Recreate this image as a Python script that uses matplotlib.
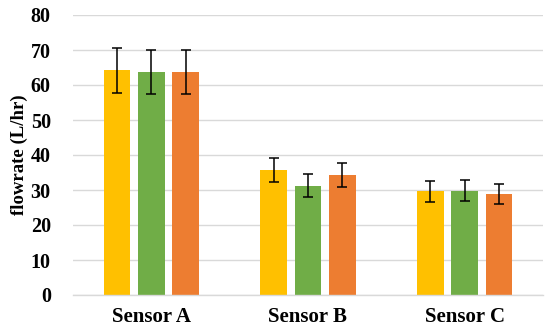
import matplotlib
matplotlib.use("Agg")
import matplotlib.pyplot as plt
import numpy as np

categories = ["Sensor A", "Sensor B", "Sensor C"]
series1 = [64.2, 35.7, 29.6]
series2 = [63.7, 31.2, 29.8]
series3 = [63.7, 34.3, 28.9]
err1 = [6.5, 3.55, 3.05]
err2 = [6.4, 3.25, 3.0]
err3 = [6.4, 3.55, 2.95]
colors = ["#FFC000", "#70AD47", "#ED7D31"]
yticks = [0, 10, 20, 30, 40, 50, 60, 70, 80]

plt.rcParams['font.family'] = ['Liberation Serif', 'DejaVu Serif']

fig = plt.figure(figsize=(5.5, 3.28), dpi=100)
ax = fig.add_axes([73/550, 33/328, 470/550, 280/328])

x = np.arange(len(categories))
width = 0.172
step = 0.219
for i, (vals, errs, c) in enumerate(zip([series1, series2, series3], [err1, err2, err3], colors)):
    ax.bar(x + (i - 1) * step, vals, width, color=c, zorder=2,
           yerr=errs, error_kw=dict(ecolor='black', elinewidth=1.1, capsize=3.8, capthick=1.1, zorder=3))

ax.set_xlim(-0.5, 2.5)
ax.set_ylim(0, 80)
ax.set_yticks(yticks)
ax.set_xticks(x)
ax.set_xticklabels(categories, fontsize=15, fontweight='bold')
ax.tick_params(axis='y', labelsize=14.5, length=0, pad=16)
ax.tick_params(axis='x', length=0, pad=9)
for lbl in ax.get_yticklabels():
    lbl.set_fontweight('bold')
ax.yaxis.grid(True, color='#D9D9D9', linewidth=1.0, zorder=0)
ax.set_axisbelow(True)
for s in ['top', 'right', 'left']:
    ax.spines[s].set_visible(False)
ax.spines['bottom'].set_color('#D9D9D9')
ax.spines['bottom'].set_linewidth(1.0)
ax.set_ylabel("flowrate (L/hr)", fontsize=13.5, fontweight='bold', labelpad=2)

fig.savefig("out.png", dpi=100)
